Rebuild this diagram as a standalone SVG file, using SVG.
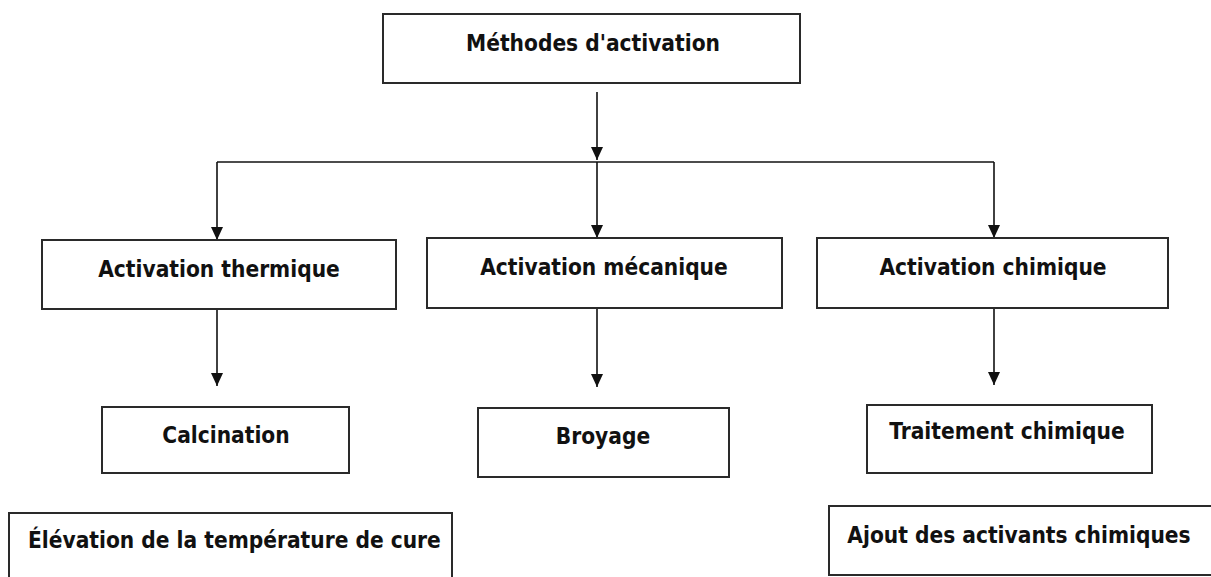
<svg xmlns="http://www.w3.org/2000/svg" width="1211" height="577" viewBox="0 0 1211 577">
<style>
.box{fill:#fff;stroke:#2a2a2a;stroke-width:2}
.lbl{font-family:"DejaVu Sans Condensed","DejaVu Sans","Liberation Sans",sans-serif;font-stretch:condensed;font-weight:bold;font-size:22.5px;fill:#111;text-anchor:middle}
.lbl2{font-family:"DejaVu Sans Condensed","DejaVu Sans","Liberation Sans",sans-serif;font-stretch:condensed;font-weight:bold;font-size:22.5px;fill:#111;text-anchor:start}
.con{fill:none;stroke:#111;stroke-width:1.6}
</style>
<defs>
<marker id="arr" viewBox="0 0 13 12" refX="13" refY="6" markerWidth="13" markerHeight="12" markerUnits="userSpaceOnUse" orient="auto">
<path d="M0,0 L13,6 L0,12 z" fill="#111"/>
</marker>
</defs>
<rect width="1211" height="577" fill="#fff"/>
<g id="connectors">
<line class="con" x1="597" y1="92" x2="597" y2="160" marker-end="url(#arr)"/>
<line class="con" x1="217" y1="162" x2="994" y2="162"/>
<line class="con" x1="217" y1="162" x2="217" y2="240" marker-end="url(#arr)"/>
<line class="con" x1="597" y1="162" x2="597" y2="238" marker-end="url(#arr)"/>
<line class="con" x1="994" y1="162" x2="994" y2="238" marker-end="url(#arr)"/>
<line class="con" x1="217" y1="309" x2="217" y2="386" marker-end="url(#arr)"/>
<line class="con" x1="597" y1="308" x2="597" y2="387" marker-end="url(#arr)"/>
<line class="con" x1="994" y1="308" x2="994" y2="385" marker-end="url(#arr)"/>
</g>
<g id="n-methodes">
<rect class="box" x="383" y="14" width="417" height="69"/>
<text class="lbl" x="593" y="51">Méthodes d'activation</text>
</g>
<g id="n-thermique">
<rect class="box" x="42" y="240" width="354" height="69"/>
<text class="lbl" x="219" y="277">Activation thermique</text>
</g>
<g id="n-mecanique">
<rect class="box" x="427" y="238" width="355" height="70"/>
<text class="lbl" x="604" y="275">Activation mécanique</text>
</g>
<g id="n-chimique">
<rect class="box" x="817" y="238" width="351" height="70"/>
<text class="lbl" x="993" y="275">Activation chimique</text>
</g>
<g id="n-calcination">
<rect class="box" x="102" y="407" width="247" height="66"/>
<text class="lbl" x="226" y="443">Calcination</text>
</g>
<g id="n-broyage">
<rect class="box" x="478" y="408" width="251" height="69"/>
<text class="lbl" x="603" y="444">Broyage</text>
</g>
<g id="n-traitement">
<rect class="box" x="867" y="405" width="285" height="68"/>
<text class="lbl" x="1007" y="439">Traitement chimique</text>
</g>
<g id="n-elevation">
<rect class="box" x="9" y="513" width="443" height="80"/>
<text class="lbl2" x="28" y="548">Élévation de la température de cure</text>
</g>
<g id="n-ajout">
<rect class="box" x="829" y="506" width="400" height="69"/>
<text class="lbl" x="1019" y="543">Ajout des activants chimiques</text>
</g>
</svg>
